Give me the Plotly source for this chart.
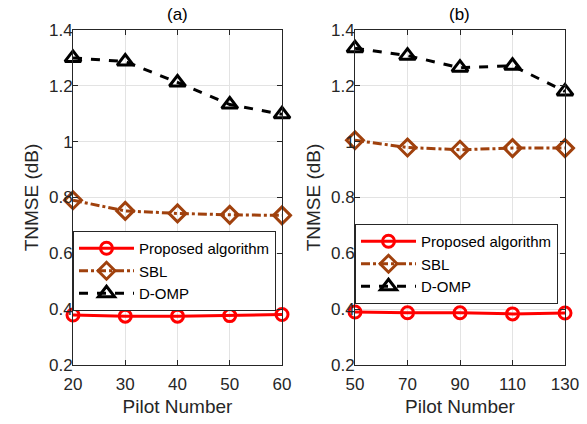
import plotly.graph_objects as go

# Data
pilot_a = [20, 30, 40, 50, 60]
prop_a = [0.379, 0.375, 0.375, 0.377, 0.381]
sbl_a = [0.790, 0.752, 0.743, 0.738, 0.736]
domp_a = [1.300, 1.287, 1.212, 1.133, 1.098]

pilot_b = [50, 70, 90, 110, 130]
prop_b = [0.390, 0.387, 0.387, 0.383, 0.386]
sbl_b = [1.005, 0.979, 0.971, 0.977, 0.977]
domp_b = [1.335, 1.308, 1.265, 1.272, 1.180]

yticks = [0.2, 0.4, 0.6, 0.8, 1.0, 1.2, 1.4]
ytick_text = ["0.2", "0.4", "0.6", "0.8", "1", "1.2", "1.4"]

RED = "#FF0000"
BROWN = "#A0410D"
BLACK = "#000000"
FONT = "Liberation Sans, Arial, sans-serif"

fig = go.Figure()

def add_set(x, p, s, d, xa, ya, leg):
    fig.add_trace(go.Scatter(x=x, y=p, name="Proposed algorithm", mode="lines+markers",
                             line=dict(color=RED, width=3),
                             marker=dict(symbol="circle-open", size=12, color=RED, line=dict(width=3)),
                             xaxis=xa, yaxis=ya, legend=leg, cliponaxis=False))
    fig.add_trace(go.Scatter(x=x, y=s, name="SBL", mode="lines+markers",
                             line=dict(color=BROWN, width=3, dash="dashdot"),
                             marker=dict(symbol="diamond-open", size=13, color=BROWN, line=dict(width=3)),
                             xaxis=xa, yaxis=ya, legend=leg, cliponaxis=False))
    fig.add_trace(go.Scatter(x=x, y=d, name="D-OMP", mode="lines+markers",
                             line=dict(color=BLACK, width=3, dash="dash"),
                             marker=dict(symbol="triangle-up-open", size=14, color=BLACK, line=dict(width=3)),
                             xaxis=xa, yaxis=ya, legend=leg, cliponaxis=False))

add_set(pilot_a, prop_a, sbl_a, domp_a, "x", "y", "legend")
add_set(pilot_b, prop_b, sbl_b, domp_b, "x2", "y2", "legend2")

W, H = 587, 424
def px(v): return v / W
def py(v): return 1 - v / H

axis_common = dict(showline=True, linecolor="#262626", linewidth=1, mirror="ticks",
                   ticks="inside", ticklen=5, tickcolor="#262626", automargin=False,
                   showgrid=True, gridcolor="#E3E3E3", gridwidth=1, zeroline=False,
                   tickfont=dict(family=FONT, size=17, color="#262626"))

xt = dict(text="Pilot Number", font=dict(size=19, color="#262626"), standoff=6)
ytt = dict(text="TNMSE (dB)", font=dict(size=19, color="#262626"), standoff=5)

legend_common = dict(xanchor="left", yanchor="top",
                     bgcolor="white", bordercolor="#262626", borderwidth=1,
                     font=dict(family=FONT, size=15, color="#000000"),
                     tracegroupgap=0, itemwidth=55)

yd = [py(365), py(30)]
fig.update_layout(
    width=W, height=H, margin=dict(l=0, r=0, t=0, b=0, autoexpand=False),
    paper_bgcolor="white", plot_bgcolor="white",
    font=dict(family=FONT, color="#262626"),
    xaxis=dict(domain=[px(73), px(282)], range=[20, 60], tickvals=pilot_a, anchor="y",
               title=xt, ticklabelstandoff=4, **axis_common),
    yaxis=dict(domain=yd, range=[0.2, 1.4], tickvals=yticks, ticktext=ytick_text, anchor="x",
               title=ytt, ticklabelstandoff=-4, **axis_common),
    xaxis2=dict(domain=[px(355), px(565)], range=[50, 130], tickvals=pilot_b, anchor="y2",
                title=xt, ticklabelstandoff=4, **axis_common),
    yaxis2=dict(domain=yd, range=[0.2, 1.4], tickvals=yticks, ticktext=ytick_text, anchor="x2",
                title=ytt, ticklabelstandoff=-4, **axis_common),
    legend=dict(x=px(73), y=py(231), **legend_common),
    legend2=dict(x=px(355), y=py(224), **legend_common),
    annotations=[
        dict(text="(a)", x=(px(73) + px(282)) / 2, y=py(15), xref="paper", yref="paper",
             xanchor="center", yanchor="middle",
             showarrow=False, font=dict(family="Liberation Sans", size=17, color="#000000")),
        dict(text="(b)", x=(px(355) + px(565)) / 2, y=py(15), xref="paper", yref="paper",
             xanchor="center", yanchor="middle",
             showarrow=False, font=dict(family="Liberation Sans", size=17, color="#000000")),
    ],
)

fig.write_html("out.html", config={"displayModeBar": False},
               post_script="document.body.style.margin='0';document.body.style.overflow='hidden';")
